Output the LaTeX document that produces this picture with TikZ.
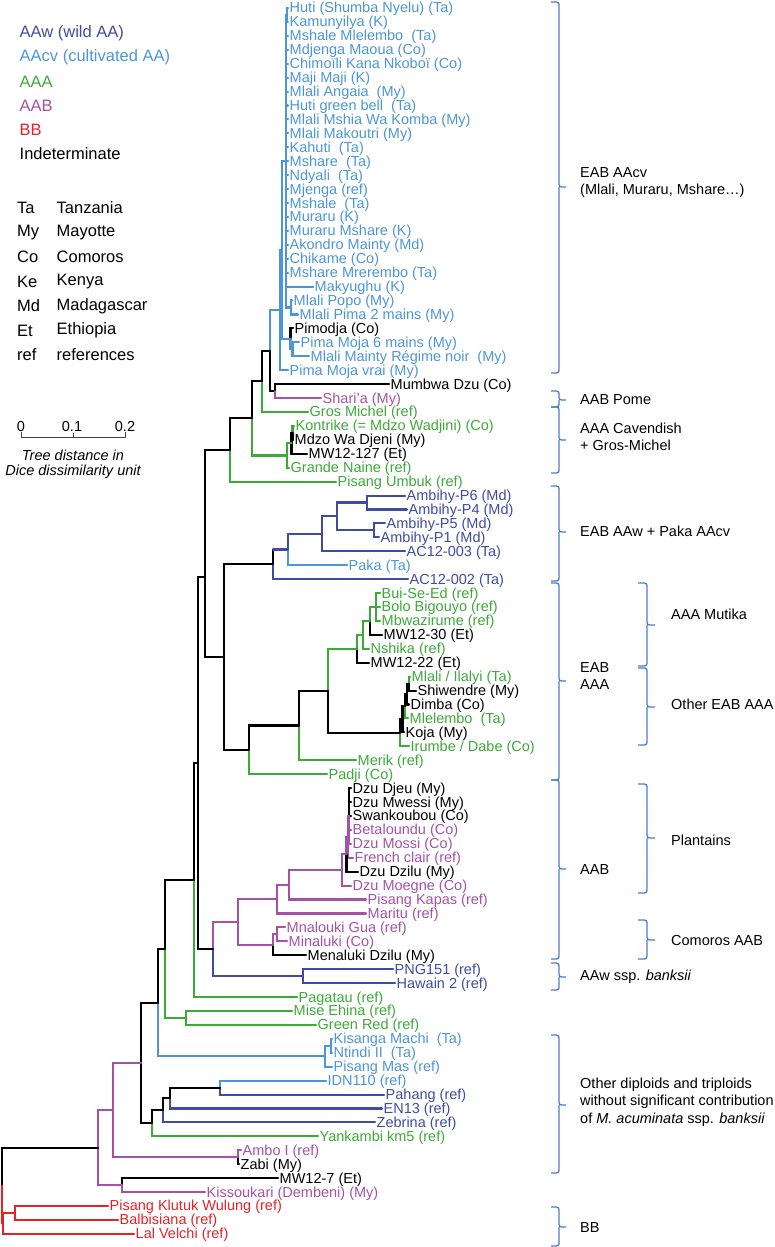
\documentclass[tikz,border=0pt]{standalone}
\usepackage{fontspec}
\setmainfont{Liberation Sans}
\definecolor{aaw}{RGB}{64,76,162}
\definecolor{aacv}{RGB}{76,150,215}
\definecolor{aaa}{RGB}{60,170,55}
\definecolor{aab}{RGB}{165,82,165}
\definecolor{bb}{RGB}{230,34,39}
\definecolor{brkc}{RGB}{74,125,200}
\tikzset{
  br/.style={line width=2.1pt, line cap=round},
  lfs/.style={anchor=base west, inner sep=0pt, font=\fontsize{14.5}{16}\selectfont},
  brk/.style={draw=brkc, line width=1.3pt, rounded corners=2.5pt},
  lab/.style={anchor=west, inner sep=0pt, font=\fontsize{14.5}{17.5}\selectfont, align=left},
  leg/.style={anchor=west, inner sep=0pt, font=\fontsize{16.5}{19}\selectfont},
  sbl/.style={inner sep=0pt, font=\fontsize{14.5}{17}\selectfont},
}
\newcommand{\leafx}[5]{\coordinate (#1) at (#2,{ly(#3)}); \node[lfs,text=#4] (#1t) at (#2+1.5,{ly(#3)+5}) {#5};}
\newcommand{\ed}[3]{\draw[br,#1] (#2) |- (#3);}
\newcommand{\edd}[4]{\draw[br,#1] (#3) -- (#3 |- #4); \draw[br,#2] (#3 |- #4) -- (#4);}
\newcommand{\mybrk}[6]{\draw[brk] (#1,#4) -- (#2,#4) -- (#2,#5) -- (#3,#5); \draw[brk] (#2,#5) -- (#2,#6) -- (#1,#6);}
\begin{document}
\begin{tikzpicture}[x=1pt,y=-1pt, declare function={ly(\i)=8+13.93*(\i-1);}]
\useasboundingbox (0,0) rectangle (774,1247);
% ---------------- leaves ----------------
\leafx{L1}{288}{1}{aacv}{Huti (Shumba Nyelu) (Ta)}
\leafx{L2}{288}{2}{aacv}{Kamunyilya (K)}
\leafx{L3}{288}{3}{aacv}{Mshale Mlelembo\ \ (Ta)}
\leafx{L4}{288}{4}{aacv}{Mdjenga Maoua (Co)}
\leafx{L5}{288}{5}{aacv}{Chimoïli Kana Nkoboï (Co)}
\leafx{L6}{288}{6}{aacv}{Maji Maji (K)}
\leafx{L7}{288}{7}{aacv}{Mlali Angaia\ \ (My)}
\leafx{L8}{288}{8}{aacv}{Huti green bell\ \ (Ta)}
\leafx{L9}{288}{9}{aacv}{Mlali Mshia Wa Komba (My)}
\leafx{L10}{288}{10}{aacv}{Mlali Makoutri (My)}
\leafx{L11}{288}{11}{aacv}{Kahuti\ \ (Ta)}
\leafx{L12}{288}{12}{aacv}{Mshare\ \ (Ta)}
\leafx{L13}{288}{13}{aacv}{Ndyali\ \ (Ta)}
\leafx{L14}{288}{14}{aacv}{Mjenga (ref)}
\leafx{L15}{288}{15}{aacv}{Mshale\ \ (Ta)}
\leafx{L16}{288}{16}{aacv}{Muraru (K)}
\leafx{L17}{288}{17}{aacv}{Muraru Mshare (K)}
\leafx{L18}{288}{18}{aacv}{Akondro Mainty (Md)}
\leafx{L19}{288}{19}{aacv}{Chikame (Co)}
\leafx{L20}{288}{20}{aacv}{Mshare Mrerembo (Ta)}
\leafx{L21}{313}{21}{aacv}{Makyughu (K)}
\leafx{L22}{292}{22}{aacv}{Mlali Popo (My)}
\leafx{L23}{298}{23}{aacv}{Mlali Pima 2 mains (My)}
\leafx{L24}{293}{24}{black}{Pimodja (Co)}
\leafx{L25}{299}{25}{aacv}{Pima Moja 6 mains (My)}
\leafx{L26}{309}{26}{aacv}{Mlali Mainty Régime noir\ \ (My)}
\leafx{L27}{288}{27}{aacv}{Pima Moja vrai (My)}
\leafx{L28}{389}{28}{black}{Mumbwa Dzu (Co)}
\leafx{L29}{321}{29}{aab}{Shari'a (My)}
\leafx{L30}{308}{30}{aaa}{Gros Michel (ref)}
\leafx{L31}{294}{31}{aaa}{Kontrike (= Mdzo Wadjini) (Co)}
\leafx{L32}{293}{32}{black}{Mdzo Wa Djeni (My)}
\leafx{L33}{307}{33}{black}{MW12-127 (Et)}
\leafx{L34}{289}{34}{aaa}{Grande Naine (ref)}
\leafx{L35}{336}{35}{aaa}{Pisang Umbuk (ref)}
\leafx{L36}{405}{36}{aaw}{Ambihy-P6 (Md)}
\leafx{L37}{407}{37}{aaw}{Ambihy-P4 (Md)}
\leafx{L38}{385}{38}{aaw}{Ambihy-P5 (Md)}
\leafx{L39}{379}{39}{aaw}{Ambihy-P1 (Md)}
\leafx{L40}{405}{40}{aaw}{AC12-003 (Ta)}
\leafx{L41}{347}{41}{aacv}{Paka (Ta)}
\leafx{L42}{408}{42}{aaw}{AC12-002 (Ta)}
\leafx{L43}{380}{43}{aaa}{Bui-Se-Ed (ref)}
\leafx{L44}{380}{44}{aaa}{Bolo Bigouyo (ref)}
\leafx{L45}{380}{45}{aaa}{Mbwazirume (ref)}
\leafx{L46}{382}{46}{black}{MW12-30 (Et)}
\leafx{L47}{369}{47}{aaa}{Nshika (ref)}
\leafx{L48}{369}{48}{black}{MW12-22 (Et)}
\leafx{L49}{410}{49}{aaa}{Mlali / Ilalyi (Ta)}
\leafx{L50}{416}{50}{black}{Shiwendre (My)}
\leafx{L51}{409}{51}{black}{Dimba (Co)}
\leafx{L52}{408}{52}{aaa}{Mlelembo\ \ (Ta)}
\leafx{L53}{404}{53}{black}{Koja (My)}
\leafx{L54}{409}{54}{aaa}{Irumbe / Dabe (Co)}
\leafx{L55}{356}{55}{aaa}{Merik (ref)}
\leafx{L56}{327}{56}{aaa}{Padji (Co)}
\leafx{L57}{351}{57}{black}{Dzu Djeu (My)}
\leafx{L58}{351}{58}{black}{Dzu Mwessi (My)}
\leafx{L59}{351}{59}{black}{Swankoubou (Co)}
\leafx{L60}{351}{60}{aab}{Betaloundu (Co)}
\leafx{L61}{351}{61}{aab}{Dzu Mossi (Co)}
\leafx{L62}{353}{62}{aab}{French clair (ref)}
\leafx{L63}{358}{63}{black}{Dzu Dzilu (My)}
\leafx{L64}{351}{64}{aab}{Dzu Moegne (Co)}
\leafx{L65}{366}{65}{aab}{Pisang Kapas (ref)}
\leafx{L66}{366}{66}{aab}{Maritu (ref)}
\leafx{L67}{285}{67}{aab}{Mnalouki Gua (ref)}
\leafx{L68}{287}{68}{aab}{Minaluki (Co)}
\leafx{L69}{306}{69}{black}{Menaluki Dzilu (My)}
\leafx{L70}{393}{70}{aaw}{PNG151 (ref)}
\leafx{L71}{395}{71}{aaw}{Hawain 2 (ref)}
\leafx{L72}{297}{72}{aaa}{Pagatau (ref)}
\leafx{L73}{292}{73}{aaa}{Mise Ehina (ref)}
\leafx{L74}{316}{74}{aaa}{Green Red (ref)}
\leafx{L75}{332}{75}{aacv}{Kisanga Machi\ \ (Ta)}
\leafx{L76}{332}{76}{aacv}{Ntindi II\ \ (Ta)}
\leafx{L77}{332}{77}{aacv}{Pisang Mas (ref)}
\leafx{L78}{326}{78}{aacv}{IDN110 (ref)}
\leafx{L79}{384}{79}{aaw}{Pahang (ref)}
\leafx{L80}{382}{80}{aaw}{EN13 (ref)}
\leafx{L81}{375}{81}{aaw}{Zebrina (ref)}
\leafx{L82}{318}{82}{aaa}{Yankambi km5 (ref)}
\leafx{L83}{241}{83}{aab}{Ambo I (ref)}
\leafx{L84}{239}{84}{black}{Zabi (My)}
\leafx{L85}{278}{85}{black}{MW12-7 (Et)}
\leafx{L86}{205}{86}{aab}{Kissoukari (Dembeni) (My)}
\leafx{L87}{108}{87}{bb}{Pisang Klutuk Wulung (ref)}
\leafx{L88}{118}{88}{bb}{Balbisiana (ref)}
\leafx{L89}{134}{89}{bb}{Lal Velchi (ref)}
% ---------------- internal nodes ----------------
\coordinate (HK) at (286.8,14.97);
\coordinate (A1) at (286,161.2);
\coordinate (PP) at (291,307.5);
\coordinate (Q2) at (292.5,349.3);
\coordinate (Q) at (290.5,338.8);
\coordinate (A0b) at (282,250);
\coordinate (A0) at (280,310.1);
\coordinate (MD) at (275,391.1);
\coordinate (H) at (270,350.6);
\coordinate (G) at (262,381.3);
\coordinate (C3) at (292.5,432.9);
\coordinate (C2) at (291.5,443.3);
\coordinate (C1) at (287,455.5);
\coordinate (F) at (252,418.4);
\coordinate (E) at (230,450);
\coordinate (AW4) at (367,502.5);
\coordinate (AW5) at (374,530.4);
\coordinate (AW3) at (337,516.4);
\coordinate (AW2) at (322,533.9);
\coordinate (AW1) at (288,549.5);
\coordinate (AW0) at (273,564.3);
\coordinate (M4) at (376,607);
\coordinate (M3) at (370,620.9);
\coordinate (M2) at (363,634.8);
\coordinate (M1) at (357,648.8);
\coordinate (O5) at (409,683.6);
\coordinate (O4) at (407,694);
\coordinate (O3) at (405,706.2);
\coordinate (O2) at (402.5,719.3);
\coordinate (O1) at (400,732.8);
\coordinate (AAA2) at (328,690.8);
\coordinate (AAA1) at (299,725.5);
\coordinate (AAA0) at (249,749.8);
\coordinate (K) at (224,657);
\coordinate (D) at (205,577);
\coordinate (P3) at (349,815.94);
\coordinate (P2) at (348,836.8);
\coordinate (P1) at (346.5,854.2);
\coordinate (PL) at (342,869.9);
\coordinate (PK) at (289,884.7);
\coordinate (P0) at (277,899.1);
\coordinate (Mn) at (277,934.3);
\coordinate (CM) at (273,944.8);
\coordinate (AB) at (238,921.95);
\coordinate (BK) at (303,976.1);
\coordinate (J) at (213,949);
\coordinate (Z1) at (198,763);
\coordinate (Z2) at (194,880);
\coordinate (MG) at (186,1017.9);
\coordinate (Z3) at (165,949);
\coordinate (KS1) at (331,1045.8);
\coordinate (KS) at (325,1056.2);
\coordinate (Z4) at (158,1002.6);
\coordinate (Y3) at (220,1087.6);
\coordinate (Y2) at (170,1098);
\coordinate (Y1) at (163,1110.2);
\coordinate (Y0) at (152,1123.3);
\coordinate (Z5) at (141,1063);
\coordinate (AZ) at (238,1157.2);
\coordinate (Z6) at (113,1110.1);
\coordinate (MK) at (122,1185.1);
\coordinate (Z7) at (98,1147.6);
\coordinate (B1) at (15,1212.9);
\coordinate (BB0) at (3,1223.4);
\coordinate (ROOT) at (2,1185.5);
% ---------------- edges ----------------
% AAcv clade
\ed{aacv}{HK}{L1} \ed{aacv}{HK}{L2}
\ed{aacv}{A1}{HK}
\foreach \n in {3,...,21} {\ed{aacv}{A1}{L\n}}
\ed{aacv}{A1}{PP}
\ed{aacv}{PP}{L22} \ed{aacv}{PP}{L23}
\ed{black}{Q}{L24} \ed{aacv}{Q}{Q2}
\ed{aacv}{Q2}{L25} \ed{aacv}{Q2}{L26}
\ed{aacv}{A0b}{A1} \ed{aacv}{A0b}{Q}
\ed{aacv}{A0}{A0b} \ed{aacv}{A0}{L27}
\ed{aacv}{H}{A0} \ed{black}{H}{MD}
\ed{black}{MD}{L28} \ed{aab}{MD}{L29}
\ed{black}{G}{H} \ed{aaa}{G}{L30}
% Cavendish
\ed{aaa}{C3}{L31} \ed{black}{C3}{L32}
\ed{black}{C2}{C3} \ed{black}{C2}{L33}
\ed{aaa}{C1}{C2} \ed{aaa}{C1}{L34}
\ed{black}{F}{G} \ed{aaa}{F}{C1}
\ed{black}{E}{F} \ed{aaa}{E}{L35}
% AAw
\ed{aaw}{AW4}{L36} \ed{aaw}{AW4}{L37}
\ed{aaw}{AW5}{L38} \ed{aaw}{AW5}{L39}
\ed{aaw}{AW3}{AW4} \ed{aaw}{AW3}{AW5}
\ed{aaw}{AW2}{AW3} \ed{aaw}{AW2}{L40}
\ed{aaw}{AW1}{AW2} \ed{aacv}{AW1}{L41}
\edd{black}{aaw}{AW0}{AW1} \ed{aaw}{AW0}{L42}
% EAB AAA
\ed{aaa}{M4}{L43} \ed{aaa}{M4}{L44} \ed{aaa}{M4}{L45}
\ed{aaa}{M3}{M4} \ed{black}{M3}{L46}
\ed{aaa}{M2}{M3} \ed{aaa}{M2}{L47}
\ed{aaa}{M1}{M2} \ed{black}{M1}{L48}
\ed{aaa}{O5}{L49} \ed{black}{O5}{L50}
\ed{black}{O4}{O5} \ed{black}{O4}{L51}
\ed{black}{O3}{O4} \ed{aaa}{O3}{L52}
\ed{black}{O2}{O3} \ed{black}{O2}{L53}
\ed{black}{O1}{O2} \ed{aaa}{O1}{L54}
\ed{aaa}{AAA2}{M1} \ed{black}{AAA2}{O1}
\ed{black}{AAA1}{AAA2} \ed{aaa}{AAA1}{L55}
\ed{black}{AAA0}{AAA1} \ed{aaa}{AAA0}{L56}
\ed{black}{K}{AW0} \ed{black}{K}{AAA0}
\ed{black}{D}{E} \ed{black}{D}{K}
% AAB + banksii
\ed{black}{P3}{L57} \ed{black}{P3}{L58} \ed{black}{P3}{L59}
\ed{aab}{P3}{L60} \ed{aab}{P3}{L61}
\ed{aab}{P2}{P3} \ed{aab}{P2}{L62}
\ed{aab}{P1}{P2} \ed{black}{P1}{L63}
\ed{aab}{PL}{P1} \ed{aab}{PL}{L64}
\ed{aab}{PK}{PL} \ed{aab}{PK}{L65}
\ed{aab}{P0}{PK} \ed{aab}{P0}{L66}
\ed{aab}{Mn}{L67} \ed{aab}{Mn}{L68}
\ed{aab}{CM}{Mn} \ed{black}{CM}{L69}
\ed{aab}{AB}{P0} \ed{aab}{AB}{CM}
\ed{aaw}{BK}{L70} \ed{aaw}{BK}{L71}
\ed{aab}{J}{AB} \ed{aaw}{J}{BK}
\ed{black}{Z1}{D} \ed{black}{Z1}{J}
\ed{black}{Z2}{Z1} \ed{aaa}{Z2}{L72}
\ed{aaa}{MG}{L73} \ed{aaa}{MG}{L74}
\ed{black}{Z3}{Z2} \ed{aaa}{Z3}{MG}
\ed{aacv}{KS1}{L75} \ed{aacv}{KS1}{L76}
\ed{aacv}{KS}{KS1} \ed{aacv}{KS}{L77}
\ed{black}{Z4}{Z3} \ed{aacv}{Z4}{KS}
\ed{aacv}{Y3}{L78} \ed{aaw}{Y3}{L79}
\ed{black}{Y2}{Y3} \ed{aaw}{Y2}{L80}
\ed{black}{Y1}{Y2} \ed{aaw}{Y1}{L81}
\ed{black}{Y0}{Y1} \ed{aaa}{Y0}{L82}
\ed{black}{Z5}{Z4} \ed{black}{Z5}{Y0}
\ed{aab}{AZ}{L83} \ed{black}{AZ}{L84}
\ed{aab}{Z6}{Z5} \ed{aab}{Z6}{AZ}
\ed{black}{MK}{L85} \ed{aab}{MK}{L86}
\ed{aab}{Z7}{Z6} \ed{aab}{Z7}{MK}
\ed{bb}{B1}{L87} \ed{bb}{B1}{L88}
\ed{bb}{BB0}{B1} \ed{bb}{BB0}{L89}
\ed{black}{ROOT}{Z7} \ed{bb}{ROOT}{BB0}
% ---------------- legend ----------------
\node[leg,text=aaw] (lg1) at (19.5,33) {AAw (wild AA)};
\node[leg,text=aacv] (lg2) at (19.5,57.5) {AAcv (cultivated AA)};
\node[leg,text=aaa] (lg3) at (19.5,82) {AAA};
\node[leg,text=aab] (lg4) at (19.5,106) {AAB};
\node[leg,text=bb] (lg5) at (19.5,130) {BB};
\node[leg] (lg6) at (19.5,154) {Indeterminate};
\foreach \a/\b/\yy [count=\k] in {Ta/Tanzania/208, My/Mayotte/232.5, Co/Comoros/257, Ke/Kenya/281.5, Md/Madagascar/306, Et/Ethiopia/330.5, ref/references/355}
  {\node[leg] (ca\k) at (17,\yy) {\a}; \node[leg] (cb\k) at (56.5,\yy) {\b};}
% ---------------- scale bar ----------------
\draw[line width=0.9pt, black!75] (21,432) -- (21,437) -- (125,437) -- (125,432);
\draw[line width=0.9pt, black!75] (73,437) -- (73,433);
\node[sbl] (s0) at (21,427) {0};
\node[sbl] (s1) at (72,427) {0.1};
\node[sbl] (s2) at (125,427) {0.2};
\node[sbl] (st1) at (73,455) {\itshape Tree distance in};
\node[sbl] (st2) at (73,472) {\itshape Dice dissimilarity unit};
% ---------------- brackets ----------------
\mybrk{551}{559}{566}{2}{187}{373}
\mybrk{551}{559}{566}{391}{400}{407}
\mybrk{551}{559}{566}{407}{440}{473}
\mybrk{551}{559}{566}{486}{532}{581}
\mybrk{551}{559}{566}{583}{681}{780}
\mybrk{551}{559}{566}{780}{869}{959}
\mybrk{551}{559}{566}{963}{977}{990}
\mybrk{551}{559}{566}{1035}{1105}{1173}
\mybrk{551}{559}{566}{1207}{1227}{1246}
\mybrk{638}{647}{655}{583}{625}{666}
\mybrk{638}{647}{655}{668}{707}{745}
\mybrk{638}{647}{655}{784}{838}{893}
\mybrk{638}{647}{655}{920}{940}{959}
\node[lab] (b1) at (580,182.5) {EAB AAcv\\(Mlali, Muraru, Mshare…)};
\node[lab] (b2) at (580,400) {AAB Pome};
\node[lab] (b3) at (580,437) {AAA Cavendish\\+ Gros-Michel};
\node[lab] (b4) at (580,531) {EAB AAw + Paka AAcv};
\node[lab] (b5) at (580,676) {EAB\\AAA};
\node[lab] (b6) at (580,870) {AAB};
\node[lab] (b7) at (671,614) {AAA Mutika};
\node[lab] (b8) at (671,704) {Other EAB AAA};
\node[lab] (b9) at (671,840) {Plantains};
\node[lab] (b10) at (671,940) {Comoros AAB};
\node[lab] (b11) at (580,977) {AAw ssp. \textit{banksii}};
\node[lab] (b12) at (580,1102) {Other diploids and triploids\\without significant contribution\\of \textit{M. acuminata} ssp. \textit{banksii}};
\node[lab] (b13) at (580,1227) {BB};
\end{tikzpicture}
\end{document}
